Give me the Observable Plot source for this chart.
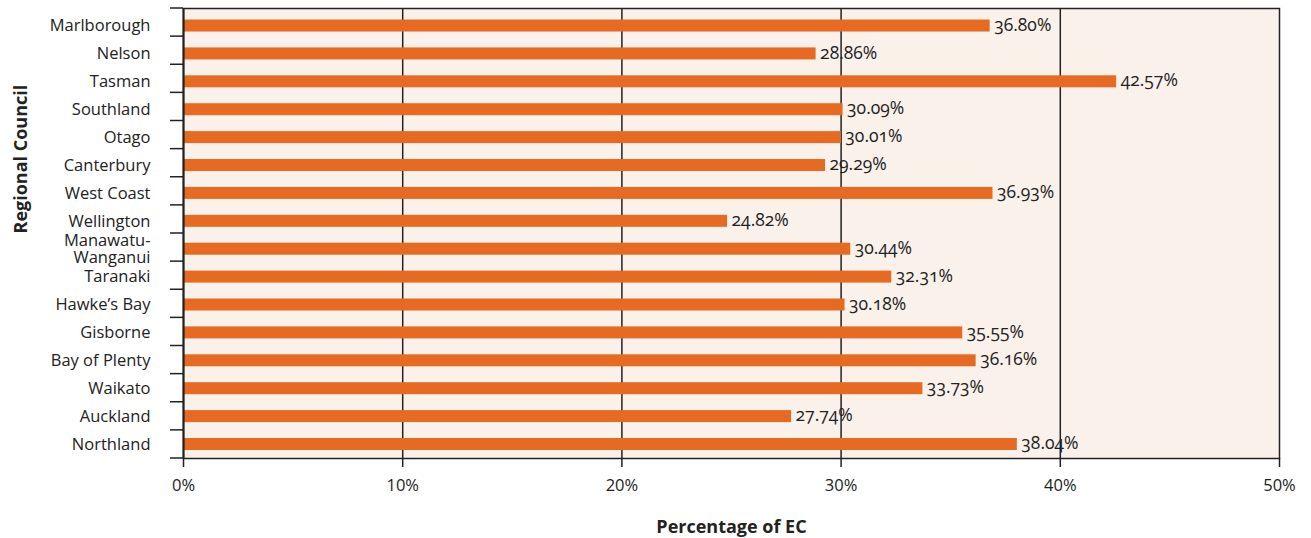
<!DOCTYPE html>
<html>
<head>
<meta charset="utf-8">
<script src="https://cdn.jsdelivr.net/npm/d3@7"></script>
<script src="https://cdn.jsdelivr.net/npm/@observablehq/plot@0.6"></script>
<style>
  html, body { margin: 0; padding: 0; background: #fff; }
  #chart { position: relative; width: 1311px; height: 538px; }
  #chart svg { font-family: "Open Sans", sans-serif; font-variant-numeric: oldstyle-nums; }
</style>
</head>
<body>
<div id="chart"></div>
<script>
// Share of EC by regional council, top to bottom as listed
const regions = [
  "Marlborough", "Nelson", "Tasman", "Southland", "Otago", "Canterbury",
  "West Coast", "Wellington", "Manawatu-\nWanganui", "Taranaki", "Hawke\u2019s Bay",
  "Gisborne", "Bay of Plenty", "Waikato", "Auckland", "Northland"
];
const percentages = [
  36.80, 28.86, 42.57, 30.09, 30.01, 29.29,
  36.93, 24.82, 30.44, 32.31, 30.18,
  35.55, 36.16, 33.73, 27.74, 38.04
];
const xTicks = [0, 10, 20, 30, 40, 50];
const gridTicks = [10, 20, 30, 40];

const rows = regions.map((region, i) => ({region, value: percentages[i]}));

const ink = "#222";
const barColor = "#E66A22";

// Short ticks on the left edge dividing the y range into one slot per region
function bandBoundaryTicks(index, scales) {
  const [r0, r1] = scales.y.range();
  const n = regions.length;
  const bounds = d3.range(n + 1).map(k => r0 + (k * (r1 - r0)) / n);
  const x0 = scales.x(0);
  const g = d3.create("svg:g");
  g.selectAll("line")
    .data(bounds)
    .join("line")
    .attr("x1", x0 - 13)
    .attr("x2", x0)
    .attr("y1", d => d)
    .attr("y2", d => d)
    .attr("stroke", ink)
    .attr("stroke-width", 1.5);
  return g.node();
}

const plot = Plot.plot({
  width: 1311,
  height: 538,
  marginLeft: 183,
  marginRight: 32,
  marginTop: 8,
  marginBottom: 80,
  style: {fontSize: "16px", color: ink, background: "transparent"},
  x: {domain: [0, 50], label: null},
  y: {domain: regions, paddingInner: 0.57, paddingOuter: 0.35, align: 0.59, round: false, label: null},
  marks: [
    Plot.frame({fill: "#FAF1EB", stroke: "none"}),
    Plot.ruleX(gridTicks, {stroke: ink, strokeWidth: 1.5}),
    Plot.barX(rows, {y: "region", x: "value", fill: barColor}),
    Plot.text(rows, {
      y: "region", x: "value",
      text: d => d.value.toFixed(2) + "%",
      textAnchor: "start", dx: 4, dy: -1,
      fill: ink, fontSize: 17.5
    }),
    // plot border
    Plot.frame({stroke: ink, strokeWidth: 1.5, fill: "none"}),
    Plot.ruleX([0], {stroke: ink, strokeWidth: 2}),
    Plot.axisX({
      ticks: xTicks, tickFormat: d => d + "%", tickSize: 9, tickPadding: 12,
      stroke: ink, strokeWidth: 1.5, fontSize: 16.5, label: null
    }),
    Plot.axisY({
      tickSize: 0, tickPadding: 33, fontSize: 16.5, label: null, lineHeight: 1.02, dy: 0
    }),
    bandBoundaryTicks,
    Plot.text(["Percentage of EC"], {
      frameAnchor: "bottom", dy: 74, text: d => d,
      fontWeight: "bold", fontSize: 18, fill: ink
    }),
    Plot.text(["Regional Council"], {
      frameAnchor: "left", dx: -162, rotate: -90, text: d => d,
      fontWeight: "bold", fontSize: 18, fill: ink
    })
  ]
});

document.getElementById("chart").appendChild(plot);
</script>
</body>
</html>
